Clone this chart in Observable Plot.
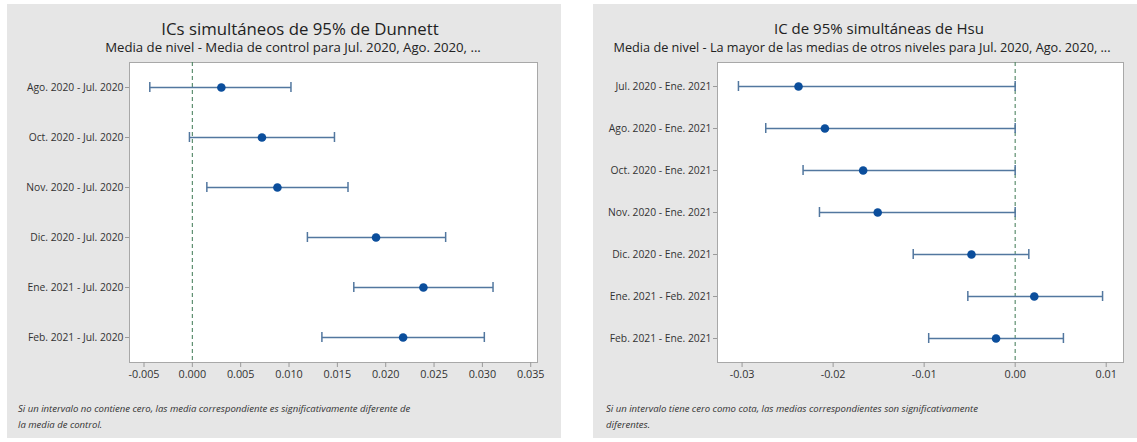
<!DOCTYPE html>
<html>
<head>
<meta charset="utf-8">
<script src="https://cdn.jsdelivr.net/npm/d3@7"></script>
<script src="https://cdn.jsdelivr.net/npm/@observablehq/plot@0.6"></script>
<style>
  body { margin: 0; background: #ffffff; font-family: "Open Sans", sans-serif; }
  #wrap { position: relative; width: 1137px; height: 442px; overflow: hidden; background: #fff; }
  .panel { position: absolute; background: #e6e6e6; }
  .title { position: absolute; width: 700px; text-align: center; white-space: nowrap; color: #222; }
  .note { position: absolute; font-style: italic; font-size: 9.55px; color: #333; line-height: 16px; white-space: nowrap; }
  .plot { position: absolute; left: 0; }
  svg [aria-label="x-axis tick"], svg [aria-label="y-axis tick"] { stroke: #9a9a9a; }
</style>
</head>
<body>
<div id="wrap">
  <div class="panel" id="pL" style="left:7px;top:4px;width:554px;height:434px;">
    <div class="title" style="left:-57px;top:13px;font-size:16.8px;">ICs simultáneos de 95% de Dunnett</div>
    <div class="title" style="left:-64px;top:34px;font-size:13.2px;">Media de nivel - Media de control para Jul. 2020, Ago. 2020, ...</div>
    <div class="plot" id="plotL" style="top:50px;"></div>
    <div class="note" style="left:11px;top:397px;">Si un intervalo no contiene cero, las media correspondiente es significativamente diferente de<br>la media de control.</div>
  </div>
  <div class="panel" id="pR" style="left:593px;top:4px;width:544px;height:434px;">
    <div class="title" style="left:-64px;top:14px;font-size:15px;">IC de 95% simultáneas de Hsu</div>
    <div class="title" style="left:-81px;top:34px;font-size:12.7px;">Media de nivel - La mayor de las medias de otros niveles para Jul. 2020, Ago. 2020, ...</div>
    <div class="plot" id="plotR" style="top:50px;"></div>
    <div class="note" style="left:13px;top:397px;">Si un intervalo tiene cero como cota, las medias correspondientes son significativamente<br>diferentes.</div>
  </div>
</div>
<script>
// ---- Left chart: Dunnett ----
const leftLabels = ["Ago. 2020 - Jul. 2020", "Oct. 2020 - Jul. 2020", "Nov. 2020 - Jul. 2020",
                    "Dic. 2020 - Jul. 2020", "Ene. 2021 - Jul. 2020", "Feb. 2021 - Jul. 2020"];
const leftCenter = [0.0030, 0.0072, 0.0088, 0.0190, 0.0239, 0.0218];
const leftLower  = [-0.0044, -0.0003, 0.0015, 0.0119, 0.0167, 0.0134];
const leftUpper  = [0.0102, 0.0147, 0.0161, 0.0262, 0.0311, 0.0302];
const leftTicks  = [-0.005, 0.000, 0.005, 0.010, 0.015, 0.020, 0.025, 0.030, 0.035];

// ---- Right chart: Hsu ----
const rightLabels = ["Jul. 2020 - Ene. 2021", "Ago. 2020 - Ene. 2021", "Oct. 2020 - Ene. 2021",
                     "Nov. 2020 - Ene. 2021", "Dic. 2020 - Ene. 2021", "Ene. 2021 - Feb. 2021",
                     "Feb. 2021 - Ene. 2021"];
const rightCenter = [-0.0238, -0.0209, -0.0167, -0.0151, -0.0048, 0.0021, -0.0021];
const rightLower  = [-0.0304, -0.0274, -0.0233, -0.0215, -0.0112, -0.0052, -0.0095];
const rightUpper  = [0.0000, 0.0000, 0.0000, 0.0000, 0.0015, 0.0096, 0.0053];
const rightTicks  = [-0.03, -0.02, -0.01, 0.00, 0.01];

function chart({labels, lo, mid, hi, domain, ticks, digits, width, ml, mr, pi}) {
  const data = labels.map((l, i) => ({l, lo: lo[i], mid: mid[i], hi: hi[i]}));
  const fmt = d => d.toFixed(digits);
  return Plot.plot({
    width, height: 340,
    marginLeft: ml, marginRight: mr, marginTop: 8, marginBottom: 32,
    style: {background: "transparent", fontFamily: "'Open Sans', sans-serif", fontSize: "10.3px", color: "#333", overflow: "visible"},
    x: {domain, label: null},
    y: {domain: labels, type: "band", paddingInner: pi, paddingOuter: pi / 2, label: null},
    marks: [
      Plot.frame({fill: "#ffffff", stroke: "#a8a8a8"}),
      Plot.axisX({ticks, tickFormat: fmt, tickSize: 5, tickPadding: 3, fontSize: "10.8px", label: null}),
      Plot.axisY({tickSize: 4, tickPadding: 2, label: null}),
      Plot.ruleX([0], {stroke: "#4f8563", strokeWidth: 1.1, strokeDasharray: "4,3"}),
      Plot.link(data, {x1: "lo", x2: "hi", y1: "l", y2: "l", stroke: "#52779f", strokeWidth: 1.5}),
      Plot.tickX(data, {x: "lo", y: "l", stroke: "#52779f", strokeWidth: 1.5}),
      Plot.tickX(data, {x: "hi", y: "l", stroke: "#52779f", strokeWidth: 1.5}),
      Plot.dot(data, {x: "mid", y: "l", r: 4.3, fill: "#0b4e9c", stroke: "none"})
    ]
  });
}

document.getElementById("plotL").append(chart({
  labels: leftLabels, lo: leftLower, mid: leftCenter, hi: leftUpper,
  domain: [-0.0065, 0.0357], ticks: leftTicks, digits: 3, width: 554, ml: 122, mr: 24, pi: 0.8
}));
document.getElementById("plotR").append(chart({
  labels: rightLabels, lo: rightLower, mid: rightCenter, hi: rightUpper,
  domain: [-0.0327, 0.0119], ticks: rightTicks, digits: 2, width: 544, ml: 124, mr: 14, pi: 0.77
}));
</script>
</body>
</html>
